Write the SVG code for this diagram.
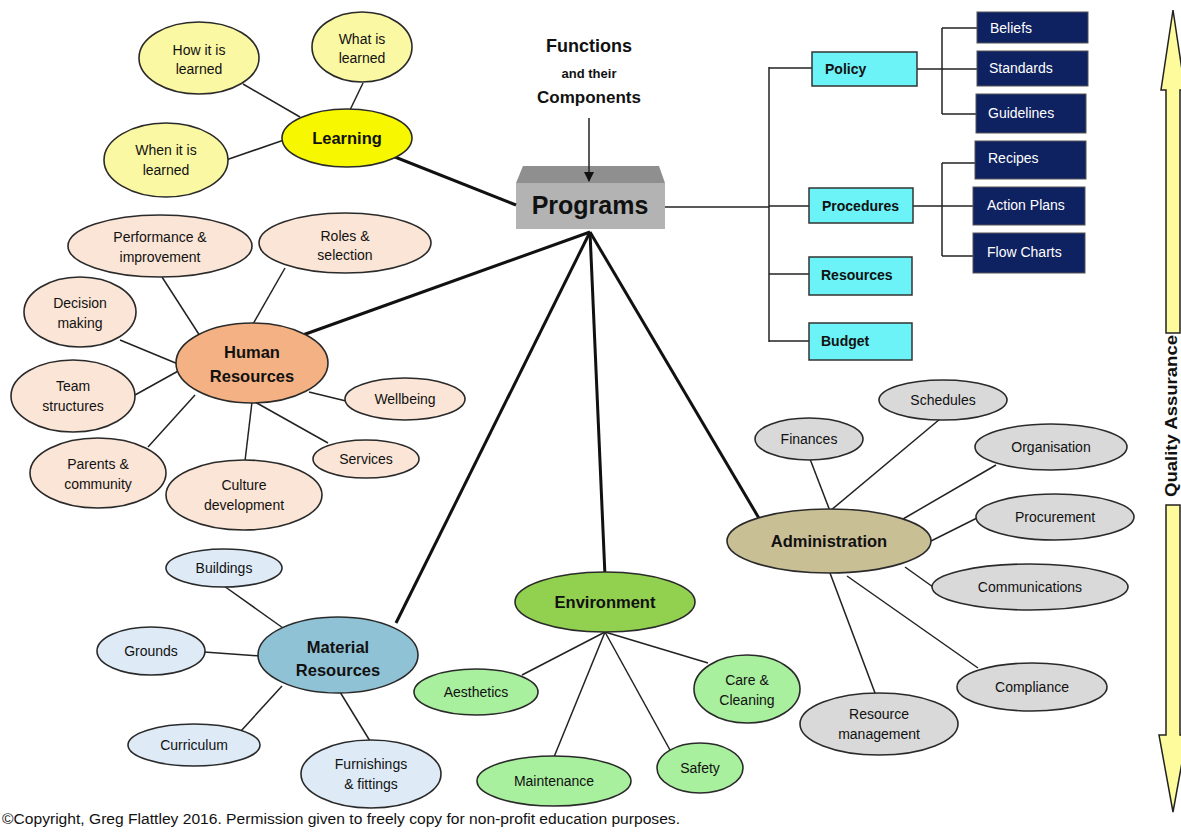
<svg xmlns="http://www.w3.org/2000/svg" width="1181" height="832" viewBox="0 0 1181 832">
<style>
text{font-family:"Liberation Sans",Arial,sans-serif;fill:#111}
.t{font-size:14px;text-anchor:middle}
.b{font-size:16.5px;font-weight:bold;text-anchor:middle}
.thin{stroke:#222;stroke-width:1.5;fill:none}
.thick{stroke:#111;stroke-width:3;fill:none}
.el{stroke:#2a2a2a;stroke-width:1.6}
.cy{fill:#6cf3f7;stroke:#333;stroke-width:1.5}
.nv{fill:#0e2160;stroke:#555;stroke-width:1}
.nt{font-size:14px;fill:#fff}
.ct{font-size:14px;font-weight:bold}
.ly{fill:#fbf8a3}.hr{fill:#fbe5d6}.mr{fill:#deebf7}.en{fill:#a8ef9e}.ad{fill:#d9d9d9}
</style>
<defs>
<marker id="ah" viewBox="0 0 10 10" refX="9" refY="5" markerWidth="7" markerHeight="7" orient="auto"><path d="M0,0 L10,5 L0,10 z" fill="#111"/></marker>
</defs>
<rect width="1181" height="832" fill="#fff"/>
<g id="programs">
<polygon points="516,183 523,166 659,166 665,183" fill="#8f8f8f"/>
<rect x="516" y="183" width="149" height="46" fill="#b3b3b3"/>
<text x="590" y="214" style="font-size:25px;font-weight:bold;text-anchor:middle">Programs</text>
</g>
<g id="connectors">
<line class="thick" x1="347" y1="138" x2="516" y2="205"/>
<line class="thick" x1="300" y1="336" x2="590" y2="232"/>
<line class="thick" x1="396" y1="623" x2="590" y2="232"/>
<line class="thick" x1="605" y1="576" x2="590" y2="232"/>
<line class="thick" x1="760" y1="520" x2="590" y2="232"/>
<line class="thin" x1="589" y1="118" x2="589" y2="181" marker-end="url(#ah)"/>
<line class="thin" x1="243" y1="84" x2="300" y2="117"/>
<line class="thin" x1="363" y1="83" x2="350" y2="110"/>
<line class="thin" x1="226" y1="160" x2="284" y2="140"/>
<line class="thin" x1="162" y1="277" x2="200" y2="336"/>
<line class="thin" x1="285" y1="268" x2="253" y2="324"/>
<line class="thin" x1="120" y1="340" x2="178" y2="364"/>
<line class="thin" x1="135" y1="395" x2="180" y2="370"/>
<line class="thin" x1="148" y1="447" x2="195" y2="395"/>
<line class="thin" x1="245" y1="461" x2="252" y2="402"/>
<line class="thin" x1="328" y1="443" x2="255" y2="402"/>
<line class="thin" x1="346" y1="401" x2="309" y2="392"/>
<line class="thin" x1="224" y1="586" x2="283" y2="628"/>
<line class="thin" x1="204" y1="652" x2="260" y2="656"/>
<line class="thin" x1="241" y1="731" x2="282" y2="686"/>
<line class="thin" x1="370" y1="741" x2="340" y2="692"/>
<line class="thin" x1="605" y1="632" x2="522" y2="675"/>
<line class="thin" x1="605" y1="632" x2="554" y2="757"/>
<line class="thin" x1="605" y1="632" x2="670" y2="750"/>
<line class="thin" x1="605" y1="632" x2="708" y2="663"/>
<line class="thin" x1="810" y1="459" x2="830" y2="511"/>
<line class="thin" x1="940" y1="419" x2="830" y2="511"/>
<line class="thin" x1="996" y1="465" x2="903" y2="519"/>
<line class="thin" x1="977" y1="518" x2="931" y2="541"/>
<line class="thin" x1="933" y1="587" x2="905" y2="567"/>
<line class="thin" x1="978" y1="668" x2="847" y2="576"/>
<line class="thin" x1="878" y1="701" x2="830" y2="573"/>
<line class="thin" x1="665" y1="207" x2="769" y2="207"/>
<line class="thin" x1="769" y1="67" x2="769" y2="342"/>
<line class="thin" x1="769" y1="68" x2="812" y2="68"/>
<line class="thin" x1="769" y1="206" x2="809" y2="206"/>
<line class="thin" x1="769" y1="274" x2="809" y2="274"/>
<line class="thin" x1="769" y1="341" x2="809" y2="341"/>
<line class="thin" x1="917" y1="69" x2="977" y2="69"/>
<line class="thin" x1="942" y1="28" x2="942" y2="114"/>
<line class="thin" x1="942" y1="28" x2="977" y2="28"/>
<line class="thin" x1="942" y1="114" x2="976" y2="114"/>
<line class="thin" x1="913" y1="206" x2="973" y2="206"/>
<line class="thin" x1="942" y1="163" x2="942" y2="256"/>
<line class="thin" x1="942" y1="163" x2="975" y2="163"/>
<line class="thin" x1="942" y1="256" x2="973" y2="256"/>
</g>
<g id="title">
<text x="589" y="52" style="font-size:18px;font-weight:bold;text-anchor:middle">Functions</text>
<text x="589" y="78" style="font-size:13px;font-weight:bold;text-anchor:middle">and their</text>
<text x="589" y="103" style="font-size:17px;font-weight:bold;text-anchor:middle">Components</text>
</g>
<g id="learning">
<ellipse class="el" cx="347" cy="138" rx="65" ry="29" fill="#f7f700"/>
<text class="b" x="347" y="144">Learning</text>
</g>
<g id="how-learned"><ellipse class="el ly" cx="199" cy="58" rx="60" ry="36"/><text class="t" x="199" y="55">How it is</text><text class="t" x="199" y="74">learned</text></g>
<g id="what-learned"><ellipse class="el ly" cx="362" cy="47" rx="50" ry="35"/><text class="t" x="362" y="44">What is</text><text class="t" x="362" y="63">learned</text></g>
<g id="when-learned"><ellipse class="el ly" cx="166" cy="160" rx="62" ry="37"/><text class="t" x="166" y="155">When it is</text><text class="t" x="166" y="175">learned</text></g>
<g id="human-resources">
<ellipse class="el" cx="252" cy="363" rx="76" ry="40" fill="#f4b183"/>
<text class="b" x="252" y="358">Human</text><text class="b" x="252" y="382">Resources</text>
</g>
<g id="performance"><ellipse class="el hr" cx="160" cy="246" rx="92" ry="31"/><text class="t" x="160" y="242">Performance &amp;</text><text class="t" x="160" y="262">improvement</text></g>
<g id="roles"><ellipse class="el hr" cx="345" cy="243" rx="86" ry="30"/><text class="t" x="345" y="241">Roles &amp;</text><text class="t" x="345" y="260">selection</text></g>
<g id="decision"><ellipse class="el hr" cx="80" cy="312" rx="56" ry="35"/><text class="t" x="80" y="308">Decision</text><text class="t" x="80" y="328">making</text></g>
<g id="team"><ellipse class="el hr" cx="73" cy="396" rx="62" ry="36"/><text class="t" x="73" y="391">Team</text><text class="t" x="73" y="411">structures</text></g>
<g id="wellbeing"><ellipse class="el hr" cx="405" cy="399" rx="60" ry="21"/><text class="t" x="405" y="404">Wellbeing</text></g>
<g id="services"><ellipse class="el hr" cx="366" cy="459" rx="53" ry="19"/><text class="t" x="366" y="464">Services</text></g>
<g id="parents"><ellipse class="el hr" cx="98" cy="473" rx="68" ry="35"/><text class="t" x="98" y="469">Parents &amp;</text><text class="t" x="98" y="489">community</text></g>
<g id="culture"><ellipse class="el hr" cx="244" cy="495" rx="78" ry="35"/><text class="t" x="244" y="490">Culture</text><text class="t" x="244" y="510">development</text></g>
<g id="material-resources">
<ellipse class="el" cx="338" cy="655" rx="80" ry="38" fill="#90c2d6"/>
<text class="b" x="338" y="653">Material</text><text class="b" x="338" y="676">Resources</text>
</g>
<g id="buildings"><ellipse class="el mr" cx="224" cy="568" rx="58" ry="19"/><text class="t" x="224" y="573">Buildings</text></g>
<g id="grounds"><ellipse class="el mr" cx="151" cy="651" rx="54" ry="24"/><text class="t" x="151" y="656">Grounds</text></g>
<g id="curriculum"><ellipse class="el mr" cx="194" cy="745" rx="66" ry="21"/><text class="t" x="194" y="750">Curriculum</text></g>
<g id="furnishings"><ellipse class="el mr" cx="371" cy="774" rx="70" ry="34"/><text class="t" x="371" y="769">Furnishings</text><text class="t" x="371" y="789">&amp; fittings</text></g>
<g id="environment">
<ellipse class="el" cx="605" cy="602" rx="90" ry="30" fill="#92d050"/>
<text class="b" x="605" y="608">Environment</text>
</g>
<g id="aesthetics"><ellipse class="el en" cx="476" cy="692" rx="62" ry="23"/><text class="t" x="476" y="697">Aesthetics</text></g>
<g id="maintenance"><ellipse class="el en" cx="554" cy="781" rx="77" ry="25"/><text class="t" x="554" y="786">Maintenance</text></g>
<g id="safety"><ellipse class="el en" cx="700" cy="768" rx="43" ry="25"/><text class="t" x="700" y="773">Safety</text></g>
<g id="care"><ellipse class="el en" cx="747" cy="689" rx="53" ry="34"/><text class="t" x="747" y="685">Care &amp;</text><text class="t" x="747" y="705">Cleaning</text></g>
<g id="administration">
<ellipse class="el" cx="829" cy="541" rx="102" ry="32" fill="#c9bf95"/>
<text class="b" x="829" y="547">Administration</text>
</g>
<g id="finances"><ellipse class="el ad" cx="809" cy="439" rx="54" ry="21"/><text class="t" x="809" y="444">Finances</text></g>
<g id="schedules"><ellipse class="el ad" cx="943" cy="400" rx="64" ry="20"/><text class="t" x="943" y="405">Schedules</text></g>
<g id="organisation"><ellipse class="el ad" cx="1051" cy="447" rx="76" ry="23"/><text class="t" x="1051" y="452">Organisation</text></g>
<g id="procurement"><ellipse class="el ad" cx="1055" cy="517" rx="79" ry="23"/><text class="t" x="1055" y="522">Procurement</text></g>
<g id="communications"><ellipse class="el ad" cx="1030" cy="587" rx="98" ry="23"/><text class="t" x="1030" y="592">Communications</text></g>
<g id="compliance"><ellipse class="el ad" cx="1032" cy="687" rx="75" ry="24"/><text class="t" x="1032" y="692">Compliance</text></g>
<g id="resource-management"><ellipse class="el ad" cx="879" cy="724" rx="79" ry="31"/><text class="t" x="879" y="719">Resource</text><text class="t" x="879" y="739">management</text></g>
<g id="policy"><rect class="cy" x="812" y="52" width="105" height="34"/><text class="ct" x="825" y="74">Policy</text></g>
<g id="procedures"><rect class="cy" x="809" y="188" width="104" height="35"/><text class="ct" x="822" y="211">Procedures</text></g>
<g id="resources"><rect class="cy" x="809" y="257" width="103" height="38"/><text class="ct" x="821" y="280">Resources</text></g>
<g id="budget"><rect class="cy" x="809" y="323" width="103" height="37"/><text class="ct" x="821" y="346">Budget</text></g>
<g id="beliefs"><rect class="nv" x="977" y="12" width="111" height="31"/><text class="nt" x="990" y="33">Beliefs</text></g>
<g id="standards"><rect class="nv" x="977" y="51" width="111" height="35"/><text class="nt" x="989" y="73">Standards</text></g>
<g id="guidelines"><rect class="nv" x="976" y="94" width="110" height="39"/><text class="nt" x="988" y="118">Guidelines</text></g>
<g id="recipes"><rect class="nv" x="975" y="141" width="111" height="38"/><text class="nt" x="988" y="163">Recipes</text></g>
<g id="action-plans"><rect class="nv" x="973" y="187" width="112" height="38"/><text class="nt" x="987" y="210">Action Plans</text></g>
<g id="flow-charts"><rect class="nv" x="973" y="233" width="112" height="40"/><text class="nt" x="987" y="257">Flow Charts</text></g>
<g id="quality-assurance">
<polygon points="1173,10 1161,90 1166,90 1166,333 1180,333 1180,90 1185,90" fill="#fdfb9c" stroke="#222" stroke-width="1.5"/>
<polygon points="1166,505 1180,505 1180,735 1187,735 1173,812 1159,735 1166,735" fill="#fdfb9c" stroke="#222" stroke-width="1.5"/>
<text transform="translate(1177,416) rotate(-90)" style="font-size:16px;font-weight:bold;text-anchor:middle" textLength="162" lengthAdjust="spacingAndGlyphs">Quality Assurance</text>
</g>
<text x="2" y="824" style="font-size:14px" textLength="678" lengthAdjust="spacingAndGlyphs">©Copyright, Greg Flattley 2016. Permission given to freely copy for non-profit education purposes.</text>
</svg>
